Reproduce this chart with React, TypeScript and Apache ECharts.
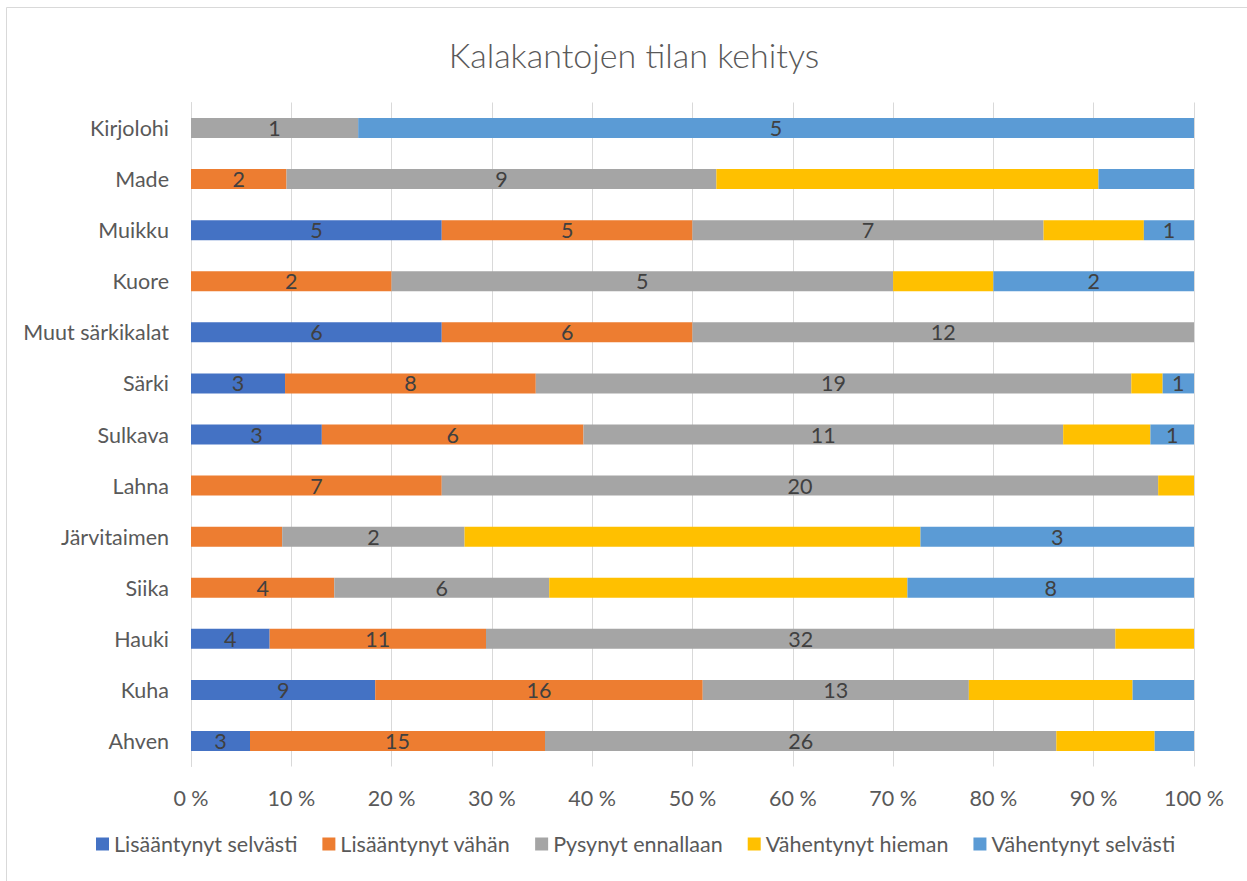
import React, { useEffect, useRef } from "react";
import * as echarts from "echarts";

const categories = ["Ahven", "Kuha", "Hauki", "Siika", "Järvitaimen", "Lahna", "Sulkava", "Särki", "Muut särkikalat", "Kuore", "Muikku", "Made", "Kirjolohi"];
const seriesNames = ["Lisääntynyt selvästi", "Lisääntynyt vähän", "Pysynyt ennallaan", "Vähentynyt hieman", "Vähentynyt selvästi"];
const lisSelvasti = [3, 9, 4, 0, 0, 0, 3, 3, 6, 0, 5, 0, 0];
const lisVahan = [15, 16, 11, 4, 1, 7, 6, 8, 6, 2, 5, 2, 0];
const pysynyt = [26, 13, 32, 6, 2, 20, 11, 19, 12, 5, 7, 9, 1];
const vahHieman = [5, 8, 4, 10, 5, 1, 2, 1, 0, 1, 2, 8, 0];
const vahSelvasti = [2, 3, 0, 8, 3, 0, 1, 1, 0, 2, 1, 2, 5];
const counts = [lisSelvasti, lisVahan, pysynyt, vahHieman, vahSelvasti];
// labels deleted in the original chart
const hiddenLabels: Record<number, string[]> = {
  1: ["Järvitaimen"],
  3: categories,
  4: ["Ahven", "Kuha", "Made"],
};
const xTicks = [0, 10, 20, 30, 40, 50, 60, 70, 80, 90, 100];
const colors = ["#4472C4", "#ED7D31", "#A5A5A5", "#FFC000", "#5B9BD5"];

const FONT = "Lato";
const FS = 21.5;

export default function App() {
  const ref = useRef<HTMLDivElement>(null);
  useEffect(() => {
    const chart = echarts.init(ref.current!, null, { renderer: "svg" });
    const totals = categories.map((_, i) => counts.reduce((s, arr) => s + arr[i], 0));
    const series = counts.map((arr, si) => ({
      name: seriesNames[si],
      type: "bar",
      stack: "total",
      barWidth: 20,
      itemStyle: { color: colors[si] },
      data: arr.map((v, i) => ({
        value: (v / totals[i]) * 100,
        count: v,
        label: {
          show: v > 0 && !(hiddenLabels[si] || []).includes(categories[i]),
        },
      })),
      label: {
        position: "inside",
        fontFamily: FONT,
        fontSize: FS,
        color: "#404040",
        formatter: (p: any) => String(p.data.count),
      },
    }));
    chart.setOption({
      animation: false,
      textStyle: { fontFamily: FONT },
      title: {
        text: "Kalakantojen tilan kehitys",
        left: 629,
        textAlign: "center",
        top: 32,
        textStyle: { fontFamily: FONT, fontSize: 34, fontWeight: 300, color: "#595959" },
      },
      graphic: [
        {
          type: "rect",
          shape: { x: 6.5, y: 7.5, width: 1300, height: 1000 },
          style: { fill: "none", stroke: "#d9d9d9", lineWidth: 1 },
          silent: true,
        },
      ],
      grid: { left: 191, right: 53, top: 102.5, bottom: 114.5, containLabel: false },
      xAxis: {
        type: "value",
        min: xTicks[0],
        max: xTicks[xTicks.length - 1],
        interval: 10,
        axisLine: { show: false },
        axisTick: { show: false },
        splitLine: { lineStyle: { color: "#d9d9d9", width: 1 } },
        axisLabel: {
          formatter: "{value} %",
          fontFamily: FONT,
          fontSize: FS,
          color: "#595959",
          margin: 20,
        },
      },
      yAxis: {
        type: "category",
        data: categories,
        axisLine: { show: true, lineStyle: { color: "#d9d9d9" } },
        axisTick: { show: false },
        axisLabel: { fontFamily: FONT, fontSize: FS, color: "#595959", margin: 22 },
      },
      legend: {
        bottom: 21,
        left: 91,
        itemWidth: 13,
        itemHeight: 13,
        itemGap: 25,
        icon: "rect",
        textStyle: { fontFamily: FONT, fontSize: FS, color: "#595959" },
        data: seriesNames,
      },
      series,
    });
    return () => chart.dispose();
  }, []);
  return (
    <div
      ref={ref}
      style={{ position: "fixed", left: 0, top: 0, width: 1247, height: 881, background: "#fff" }}
    />
  );
}
